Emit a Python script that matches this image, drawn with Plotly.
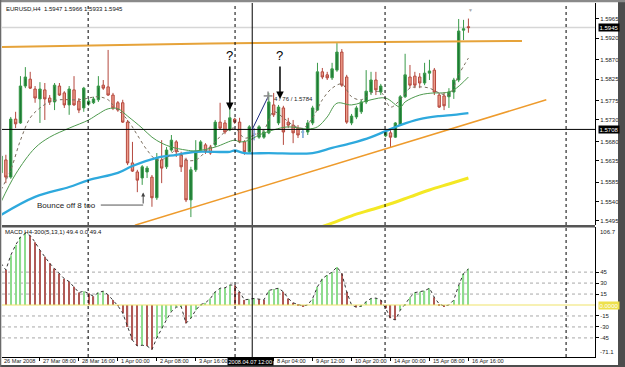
import plotly.graph_objects as go

FONT = "Liberation Sans, Arial, sans-serif"

# ---------------- data ----------------
bar_index = list(range(97))

open_price = [
    1.5607, 1.5637, 1.5597, 1.5732, 1.5723, 1.5809, 1.5825, 1.5802, 1.5779, 1.5800,
    1.5781, 1.5772, 1.5809, 1.5793, 1.5765, 1.5800, 1.5774, 1.5758, 1.5767, 1.5770,
    1.5777, 1.5811, 1.5807, 1.5788, 1.5770, 1.5770, 1.5725, 1.5630, 1.5609, 1.5595,
    1.5609, 1.5597, 1.5549, 1.5637, 1.5621, 1.5660, 1.5679, 1.5649, 1.5637, 1.5544,
    1.5614, 1.5660, 1.5672, 1.5667, 1.5672, 1.5725, 1.5723, 1.5707, 1.5732, 1.5725,
    1.5679, 1.5656, 1.5697, 1.5690, 1.5690, 1.5700, 1.5765, 1.5723, 1.5758, 1.5725,
    1.5718, 1.5711, 1.5702, 1.5702, 1.5723, 1.5753, 1.5842, 1.5835, 1.5828, 1.5846,
    1.5888, 1.5830, 1.5723, 1.5737, 1.5749, 1.5772, 1.5795, 1.5823, 1.5795, 1.5693,
    1.5700, 1.5690, 1.5718, 1.5784, 1.5830, 1.5832, 1.5830, 1.5816, 1.5839, 1.5846,
    1.5788, 1.5786, 1.5784, 1.5795, 1.5823, 1.5939, 1.5947]

high_price = [
    1.5660, 1.5649, 1.5737, 1.5749, 1.5832, 1.5853, 1.5842, 1.5809, 1.5818, 1.5816,
    1.5788, 1.5816, 1.5816, 1.5797, 1.5809, 1.5832, 1.5781, 1.5807, 1.5779, 1.5784,
    1.5832, 1.5823, 1.5893, 1.5793, 1.5774, 1.5777, 1.5730, 1.5679, 1.5614, 1.5625,
    1.5623, 1.5602, 1.5653, 1.5683, 1.5667, 1.5695, 1.5683, 1.5656, 1.5642, 1.5621,
    1.5683, 1.5683, 1.5676, 1.5672, 1.5730, 1.5770, 1.5730, 1.5770, 1.5735, 1.5735,
    1.5683, 1.5718, 1.5711, 1.5718, 1.5707, 1.5793, 1.5793, 1.5765, 1.5763, 1.5735,
    1.5730, 1.5718, 1.5711, 1.5730, 1.5763, 1.5863, 1.5851, 1.5842, 1.5863, 1.5909,
    1.5895, 1.5835, 1.5744, 1.5763, 1.5777, 1.5846, 1.5842, 1.5842, 1.5814, 1.5704,
    1.5711, 1.5725, 1.5788, 1.5884, 1.5858, 1.5842, 1.5839, 1.5863, 1.5870, 1.5851,
    1.5793, 1.5795, 1.5804, 1.5828, 1.5965, 1.5963, 1.5966]

low_price = [
    1.5595, 1.5583, 1.5593, 1.5711, 1.5721, 1.5804, 1.5802, 1.5770, 1.5723, 1.5730,
    1.5765, 1.5753, 1.5786, 1.5758, 1.5742, 1.5763, 1.5746, 1.5749, 1.5763, 1.5767,
    1.5772, 1.5800, 1.5786, 1.5753, 1.5749, 1.5723, 1.5625, 1.5609, 1.5562, 1.5579,
    1.5595, 1.5528, 1.5544, 1.5583, 1.5616, 1.5656, 1.5644, 1.5609, 1.5539, 1.5504,
    1.5609, 1.5656, 1.5651, 1.5649, 1.5667, 1.5709, 1.5697, 1.5704, 1.5721, 1.5676,
    1.5649, 1.5651, 1.5683, 1.5686, 1.5686, 1.5697, 1.5737, 1.5718, 1.5672, 1.5711,
    1.5676, 1.5688, 1.5688, 1.5695, 1.5718, 1.5751, 1.5825, 1.5823, 1.5823, 1.5842,
    1.5807, 1.5721, 1.5718, 1.5732, 1.5744, 1.5767, 1.5788, 1.5788, 1.5788, 1.5690,
    1.5667, 1.5688, 1.5716, 1.5781, 1.5804, 1.5804, 1.5804, 1.5811, 1.5823, 1.5788,
    1.5758, 1.5753, 1.5758, 1.5779, 1.5818, 1.5916, 1.5933]

close_price = [
    1.5646, 1.5597, 1.5732, 1.5721, 1.5809, 1.5830, 1.5804, 1.5781, 1.5802, 1.5779,
    1.5772, 1.5811, 1.5788, 1.5765, 1.5802, 1.5765, 1.5753, 1.5804, 1.5774, 1.5779,
    1.5809, 1.5804, 1.5788, 1.5758, 1.5753, 1.5725, 1.5630, 1.5611, 1.5590, 1.5621,
    1.5618, 1.5549, 1.5642, 1.5618, 1.5660, 1.5683, 1.5656, 1.5621, 1.5544, 1.5614,
    1.5656, 1.5679, 1.5656, 1.5653, 1.5725, 1.5711, 1.5702, 1.5735, 1.5725, 1.5679,
    1.5656, 1.5714, 1.5697, 1.5714, 1.5702, 1.5772, 1.5742, 1.5760, 1.5702, 1.5718,
    1.5700, 1.5695, 1.5702, 1.5723, 1.5758, 1.5842, 1.5830, 1.5828, 1.5849, 1.5888,
    1.5811, 1.5725, 1.5739, 1.5758, 1.5772, 1.5797, 1.5823, 1.5800, 1.5809, 1.5702,
    1.5690, 1.5723, 1.5784, 1.5835, 1.5811, 1.5811, 1.5816, 1.5839, 1.5844, 1.5795,
    1.5760, 1.5763, 1.5795, 1.5823, 1.5937, 1.5942, 1.5945]

# moving averages (read at selected bars)
cyan_ma_index = [0, 7, 14, 18, 24, 27, 32, 36, 40, 47, 48, 50, 55, 64, 68, 72, 76, 79, 82, 86, 90, 93, 96]
cyan_ma_value = [1.5509, 1.5551, 1.5574, 1.5590, 1.5607, 1.5623, 1.5642, 1.5649, 1.5656, 1.5656,
                 1.5659, 1.5653, 1.5653, 1.5653, 1.5665, 1.5676, 1.5690, 1.5704, 1.5718, 1.5732,
                 1.5739, 1.5742, 1.5746]

green_ma_index = [0, 3, 7, 10, 14, 18, 20, 22, 24, 26, 29, 31, 33, 35, 38, 40, 44, 48, 49, 51,
                  53, 56, 59, 63, 65, 67, 69, 72, 76, 79, 82, 83, 86, 89, 91, 93, 96]
green_ma_value = [1.5539, 1.5604, 1.5665, 1.5690, 1.5711, 1.5730, 1.5744, 1.5756, 1.5756, 1.5739,
                  1.5711, 1.5690, 1.5676, 1.5667, 1.5660, 1.5658, 1.5667, 1.5683, 1.5679, 1.5683,
                  1.5695, 1.5707, 1.5714, 1.5709, 1.5714, 1.5737, 1.5769, 1.5765, 1.5777, 1.5781,
                  1.5760, 1.5772, 1.5788, 1.5793, 1.5793, 1.5800, 1.5830]

dotted_ma_index = [0, 2, 4, 6, 8, 10, 12, 16, 20, 22, 23, 26, 28, 30, 32, 34, 36, 38, 40, 42,
                   44, 46, 48, 50, 52, 54, 56, 58, 60, 62, 64, 66, 68, 70, 71, 72, 74, 76, 78, 80,
                   82, 84, 86, 88, 90, 92, 94, 96]
dotted_ma_value = [1.5567, 1.5614, 1.5683, 1.5735, 1.5758, 1.5772, 1.5777, 1.5777, 1.5784, 1.5777,
                   1.5765, 1.5730, 1.5695, 1.5660, 1.5637, 1.5642, 1.5660, 1.5637, 1.5637, 1.5656,
                   1.5679, 1.5702, 1.5711, 1.5688, 1.5695, 1.5707, 1.5749, 1.5735, 1.5718, 1.5711,
                   1.5735, 1.5777, 1.5804, 1.5814, 1.5800, 1.5784, 1.5777, 1.5793, 1.5795, 1.5760,
                   1.5777, 1.5804, 1.5807, 1.5804, 1.5793, 1.5788, 1.5835, 1.5874]

yellow_ma_index = [66, 68, 72, 76, 80, 84, 88, 92, 96]
yellow_ma_value = [1.5482, 1.5490, 1.5507, 1.5521, 1.5535, 1.5551, 1.5567, 1.5581, 1.5595]

upper_trend_index = [0, 43, 107]
upper_trend_price = [1.5900, 1.5908, 1.5914]
lower_trend_index = [27.5, 112]
lower_trend_price = [1.5485, 1.5777]

macd_values = [
    57, 48, 68, 82, 93, 98, 95, 86, 75, 66,
    57, 50, 43, 36, 32, 25, 17, 19, 16, 12,
    17, 19, 14, 7, -1, -11, -30, -48, -56, -55,
    -56, -61, -45, -32, -20, -9, -3, -2, -25, -18,
    -7, 0.5, 3, 9, 18, 23, 23.5, 27.5, 27, 18,
    7, 8, 9, 8, 7, 20, 22, 23, 18, 9,
    3, 0.5, -1.4, 0, 9, 25, 36, 41, 45, 52,
    43, 18, 0, -3, -1.4, 4.5, 9, 9.5, 7, -4.5,
    -18, -20.5, -7, 1, 10.5, 17, 18, 19.5, 23, 10.5,
    1.4, -1.4, 0, 7, 27, 43, 49.4]

time_tick_index = [0, 8, 16, 24, 32, 40, 48, 56, 64, 72, 80, 88, 96]
time_tick_text = ["26 Mar 2008", "27 Mar 08:00", "28 Mar 16:00", "1 Apr 00:00", "2 Apr 08:00",
                  "3 Apr 16:00", "7 Apr 00:00", "8 Apr 04:00", "9 Apr 12:00", "10 Apr 20:00",
                  "14 Apr 00:00", "15 Apr 08:00", "16 Apr 16:00"]
price_ticks = [1.5965, 1.5920, 1.5870, 1.5825, 1.5775, 1.5730, 1.5680, 1.5635, 1.5585, 1.5540, 1.5495]
macd_ticks = [45, 30, 15, -15, -30, -45]
macd_range = [-71.1, 106.7]
week_separators = [17.9, 48.07, 78.88, 116.06]
crosshair_bar = 51.6
crosshair_price = 1.5708
crosshair_time = "2008.04.07 12:00"
bid_price = 1.5945
cursor_bar = 54.85
cursor_price = 1.5784

# ---------------- figure ----------------
fig = go.Figure()

fig.add_trace(go.Scatter(x=lower_trend_index, y=lower_trend_price, mode="lines",
                         line=dict(color="#EE9B2C", width=1.5), hoverinfo="skip"))
fig.add_trace(go.Scatter(x=upper_trend_index, y=upper_trend_price, mode="lines",
                         line=dict(color="#E6A33A", width=2), hoverinfo="skip"))
fig.add_trace(go.Scatter(x=yellow_ma_index, y=yellow_ma_value, mode="lines",
                         line=dict(color="#F4E824", width=3, shape="spline"), hoverinfo="skip"))
fig.add_trace(go.Scatter(x=cyan_ma_index, y=cyan_ma_value, mode="lines",
                         line=dict(color="#2EA9DD", width=2.3, shape="spline"), hoverinfo="skip"))

fig.add_trace(go.Candlestick(
    x=bar_index, open=open_price, high=high_price, low=low_price, close=close_price,
    increasing=dict(line=dict(color="#3A9A4A", width=1), fillcolor="#1D7A35"),
    decreasing=dict(line=dict(color="#B4483E", width=1), fillcolor="#EE9C8A"),
    hoverinfo="skip"))

doji = [o == c for o, c in zip(open_price, close_price)]
fig.add_trace(go.Candlestick(
    x=bar_index,
    open=[o if d else None for o, d in zip(open_price, doji)],
    high=[h if d else None for h, d in zip(high_price, doji)],
    low=[l if d else None for l, d in zip(low_price, doji)],
    close=[c if d else None for c, d in zip(close_price, doji)],
    increasing=dict(line=dict(color="#8FB0E8", width=1.5), fillcolor="#8FB0E8"),
    decreasing=dict(line=dict(color="#8FB0E8", width=1.5), fillcolor="#8FB0E8"),
    hoverinfo="skip"))

fig.add_trace(go.Scatter(x=green_ma_index, y=green_ma_value, mode="lines",
                         line=dict(color="#4E9A4E", width=1, shape="spline"), hoverinfo="skip"))
fig.add_trace(go.Scatter(x=dotted_ma_index, y=dotted_ma_value, mode="lines",
                         line=dict(color="#7A6E5E", width=1, dash="dot", shape="spline"), hoverinfo="skip"))

hist_colors = ["#8EDC8E" if (i == 0 or v >= macd_values[i - 1]) else "#B05A56"
               for i, v in enumerate(macd_values)]
fig.add_trace(go.Bar(x=bar_index, y=macd_values, width=0.25, marker=dict(color=hist_colors, line=dict(width=0)),
                     yaxis="y2", hoverinfo="skip"))
fig.add_trace(go.Scatter(x=bar_index, y=macd_values, mode="lines", yaxis="y2",
                         line=dict(color="#333333", width=1, dash="dot"), hoverinfo="skip"))

fig.update_layout(
    width=625, height=367,
    margin=dict(l=2, r=30, t=3, b=10),
    paper_bgcolor="white", plot_bgcolor="white",
    showlegend=False,
    font=dict(family=FONT, size=6, color="#222222"),
    xaxis=dict(domain=[0, 1], range=[0.205, 122.0], anchor="y2", showgrid=False, zeroline=False,
               showline=True, linecolor="black", linewidth=1, ticks="outside", ticklen=3,
               tickcolor="black", tickvals=time_tick_index, showticklabels=False,
               rangeslider=dict(visible=False), fixedrange=True),
    yaxis=dict(domain=[0.3729, 1.0], range=[1.54856, 1.60022], side="right", anchor="x",
               showgrid=False, zeroline=False, showline=True, linecolor="black", linewidth=1,
               ticks="outside", ticklen=3, tickcolor="black", tickvals=price_ticks,
               ticktext=[f"{v:.4f}" for v in price_ticks],
               tickfont=dict(family=FONT, size=6, color="#222222"), fixedrange=True),
    yaxis2=dict(domain=[0, 0.3672], range=macd_range, side="right", anchor="x",
                showgrid=False, zeroline=False, showline=True, linecolor="black", linewidth=1,
                ticks="outside", ticklen=3, tickcolor="black", tickvals=macd_ticks,
                ticktext=[str(v) for v in macd_ticks],
                tickfont=dict(family=FONT, size=6, color="#222222"), fixedrange=True),
)

shapes = []
for s in week_separators:
    shapes.append(dict(type="line", xref="x", yref="paper", x0=s, x1=s, y0=0, y1=1,
                       line=dict(color="black", width=1, dash="dot")))
for lv in macd_ticks:
    shapes.append(dict(type="line", xref="paper", yref="y2", x0=0, x1=1, y0=lv, y1=lv,
                       line=dict(color="#A8A8A8", width=1, dash="dot"), layer="below"))
shapes.append(dict(type="line", xref="paper", yref="y2", x0=0, x1=1, y0=0, y1=0,
                   line=dict(color="#F0E46A", width=1.2)))
shapes.append(dict(type="line", xref="paper", yref="y", x0=0, x1=1, y0=bid_price, y1=bid_price,
                   line=dict(color="#D6D6D6", width=1.5), layer="below"))
shapes.append(dict(type="line", xref="paper", yref="y", x0=0, x1=1, y0=crosshair_price, y1=crosshair_price,
                   line=dict(color="black", width=1)))
shapes.append(dict(type="line", xref="x", yref="paper", x0=crosshair_bar, x1=crosshair_bar, y0=0, y1=1,
                   line=dict(color="black", width=1)))
shapes.append(dict(type="line", xref="x", yref="y", x0=crosshair_bar, y0=crosshair_price,
                   x1=cursor_bar, y1=cursor_price, line=dict(color="#1C2A80", width=1)))
shapes.append(dict(type="line", xref="x", yref="y", x0=cursor_bar - 0.9, x1=cursor_bar + 0.9,
                   y0=cursor_price + 0.0002, y1=cursor_price + 0.0002, line=dict(color="#8A8A8A", width=1.5)))
shapes.append(dict(type="line", xref="x", yref="y", x0=cursor_bar, x1=cursor_bar,
                   y0=cursor_price - 0.0008, y1=cursor_price + 0.0012, line=dict(color="#8A8A8A", width=1.5)))
shapes.append(dict(type="line", xref="x", yref="y", x0=20.5, x1=29.2, y0=1.5532, y1=1.5532,
                   line=dict(color="#555555", width=1)))
shapes.append(dict(type="rect", xref="paper", yref="paper", x0=0, x1=1, y0=0.3658, y1=0.3729,
                   fillcolor="#555555", line=dict(width=0)))
shapes.append(dict(type="rect", xref="paper", yref="paper", x0=1.0388, x1=1.06, y0=-0.04, y1=1.02,
                   fillcolor="#4D4D4D", line=dict(width=0)))
shapes.append(dict(type="rect", xref="paper", yref="paper", x0=-0.01, x1=1.06, y0=-0.04, y1=-0.0226,
                   fillcolor="#4D4D4D", line=dict(width=0)))
shapes.append(dict(type="rect", xref="paper", yref="paper", x0=-0.01, x1=1.06, y0=1.0020, y1=1.02,
                   fillcolor="#8A8A8A", line=dict(width=0)))
shapes.append(dict(type="rect", xref="paper", yref="paper", x0=-0.01, x1=-0.0012, y0=-0.04, y1=1.02,
                   fillcolor="#6A6A6A", line=dict(width=0)))
fig.update_layout(shapes=shapes)

ann = []
ann.append(dict(xref="paper", yref="paper", x=0.0034, y=0.983, xanchor="left", yanchor="middle",
                text="EURUSD,H4  1.5947 1.5966 1.5933 1.5945", showarrow=False,
                font=dict(size=6, color="#111111")))
ann.append(dict(xref="paper", yref="paper", x=0.0017, y=0.353, xanchor="left", yanchor="middle",
                text="MACD H4-300(5,13,1) 49.4 0.0 49.4", showarrow=False,
                font=dict(size=6, color="#111111")))
ann.append(dict(xref="paper", yref="y", x=1.0, xshift=3, y=bid_price, xanchor="left", yanchor="middle",
                text="1.5945", showarrow=False, bgcolor="black", borderpad=0.5,
                font=dict(size=6, color="white")))
ann.append(dict(xref="paper", yref="y", x=1.0, xshift=3, y=crosshair_price, xanchor="left", yanchor="middle",
                text="1.5708", showarrow=False, bgcolor="black", borderpad=0.5,
                font=dict(size=6, color="white")))
ann.append(dict(xref="paper", yref="y2", x=1.0, xshift=3, y=0, xanchor="left", yanchor="middle",
                text="0.0000", showarrow=False, bgcolor="#EDE04C", borderpad=0.5,
                font=dict(size=6, color="white")))
ann.append(dict(xref="paper", yref="y2", x=1.0, xshift=3, y=macd_range[1], xanchor="left", yanchor="top",
                text="106.7", showarrow=False, font=dict(size=6, color="#222222")))
ann.append(dict(xref="paper", yref="y2", x=1.0, xshift=3, y=macd_range[0], xanchor="left", yanchor="bottom",
                text="-71.1", showarrow=False, font=dict(size=6, color="#222222")))
# time labels (the one under the crosshair time box is hidden in the reference)
for idx, txt in zip(time_tick_index, time_tick_text):
    if abs(idx - crosshair_bar) < 4.0:
        continue
    ann.append(dict(xref="x", yref="paper", x=max(idx + 0.3, 0.25), y=-0.0113, xanchor="left",
                    yanchor="middle", text=txt, showarrow=False, font=dict(size=5.6, color="#222222")))
ann.append(dict(xref="x", yref="paper", x=crosshair_bar - 0.45, y=-0.0113, xanchor="center", yanchor="middle",
                text=crosshair_time, showarrow=False, bgcolor="black", borderpad=0.5,
                font=dict(size=5.6, color="white")))
for qx, qy, head in [(47.0, 1.5879, 1.5753), (57.3, 1.5881, 1.5779)]:
    ann.append(dict(xref="x", yref="y", x=qx, y=qy, text="?", showarrow=False,
                    font=dict(size=13, color="black")))
    ann.append(dict(xref="x", yref="y", x=qx, y=head, ax=qx, ay=1.5858, axref="x", ayref="y",
                    text="", showarrow=True, arrowhead=2, arrowsize=1, arrowwidth=1.5, arrowcolor="black"))
ann.append(dict(xref="x", yref="y", x=13.35, y=1.5532, text="Bounce off 8 too", showarrow=False,
                font=dict(size=8, color="#222222")))
ann.append(dict(xref="x", yref="y", x=29.2, y=1.5561, ax=29.2, ay=1.5532, axref="x", ayref="y",
                text="", showarrow=True, arrowhead=2, arrowsize=0.8, arrowwidth=1, arrowcolor="#444444"))
ann.append(dict(xref="x", yref="y", x=cursor_bar + 0.9, y=1.5779, xanchor="left", yanchor="middle",
                text="4 / 76 / 1.5784", showarrow=False, font=dict(size=6, color="#222222")))
ann.append(dict(xref="paper", yref="paper", x=0.7976, y=0.994, text="\u25BC", showarrow=False,
                font=dict(size=5, color="#AAAAAA")))
fig.update_layout(annotations=ann)

fig.write_html("out.html")
